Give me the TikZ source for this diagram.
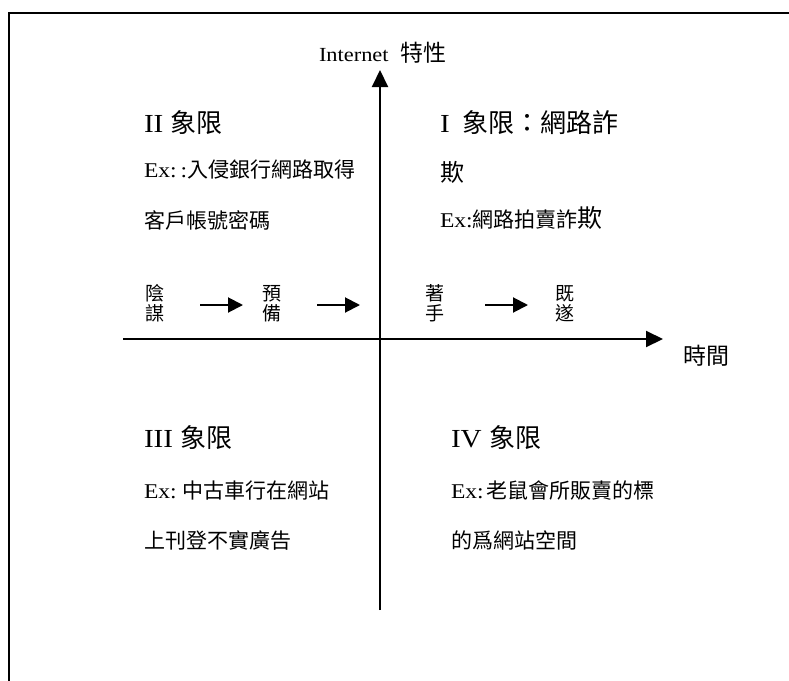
\documentclass[tikz,border=0pt]{standalone}
\usepackage{fontspec}
\setmainfont{Liberation Serif}[FakeStretch=1.12]
\newfontfamily\cjk{Noto Sans CJK TC}
\usetikzlibrary{arrows.meta}
\newcommand\fsz[1]{\fontsize{#1}{#1}\selectfont}
\tikzset{
  txt/.style={anchor=base west, inner sep=0pt, outer sep=0pt},
  hd/.style={txt, font=\fsz{26}},
  bd/.style={txt, font=\fsz{21}},
  vch/.style={anchor=base, inner sep=0pt, outer sep=0pt, font=\cjk\fsz{19}},
  axisline/.style={line width=2pt, -{Triangle[length=17pt,width=16pt]}},
  flow/.style={line width=2pt, -{Triangle[length=15pt,width=15pt]}},
  framel/.style={line width=2pt}
}
\begin{document}
\begin{tikzpicture}[x=1pt,y=-1pt]
\useasboundingbox (0,0) rectangle (789,680);
% frame (partially visible)
\draw[framel] (9,682) -- (9,13) -- (791,13);

% axes
\coordinate (yb) at (380,610);
\coordinate (yt) at (380,70);
\coordinate (xl) at (123,339);
\coordinate (xr) at (663,339);
\draw[axisline] (yb) -- (yt);
\draw[axisline] (xl) -- (xr);

% axis labels
\node[txt, font=\fsz{20}] (ylab) at (319,61) {\makebox[81pt][l]{Internet}{\cjk\fsz{23}特性}};
\node[txt, font=\cjk\fsz{23}] (xlab) at (683,364) {時間};

% quadrant II
\node[hd] (q2h) at (144,132) {II {\cjk 象限}};
\node[bd] (q2a) at (144,177) {Ex:\hspace{4pt}:{\cjk 入侵銀行網路取得}};
\node[bd] (q2b) at (144,228) {\cjk 客戶帳號密碼};

% quadrant I
\node[hd] (q1h) at (440,132) {\makebox[22pt][l]{I}{\cjk 象限：網路詐}};
\node[txt, font=\cjk\fsz{24}] (q1a) at (440,181) {欺};
\node[bd] (q1b) at (440,227) {Ex:{\cjk 網路拍賣詐{\fsz{25}欺}}};

% quadrant III
\node[hd] (q3h) at (144,447) {III {\cjk 象限}};
\node[bd] (q3a) at (144,498) {\makebox[38pt][l]{Ex:}{\cjk 中古車行在網站}};
\node[bd] (q3b) at (144,548) {\cjk 上刊登不實廣告};

% quadrant IV
\node[hd] (q4h) at (451,447) {IV {\cjk 象限}};
\node[bd] (q4a) at (451,498) {\makebox[35pt][l]{Ex:}{\cjk 老鼠會所販賣的標}};
\node[bd] (q4b) at (451,548) {\cjk 的爲網站空間};

% stages
\node[vch] (yin) at (155,300) {陰};
\node[vch] (mou) at (155,320) {謀};
\node[vch] (yu) at (272,300) {預};
\node[vch] (bei) at (272,320) {備};
\node[vch] (zhu) at (435,300) {著};
\node[vch] (shou) at (435,320) {手};
\node[vch] (ji) at (565,300) {既};
\node[vch] (sui) at (565,320) {遂};

\coordinate (f1s) at (200,305);
\coordinate (f1e) at (243,305);
\coordinate (f2s) at (317,305);
\coordinate (f2e) at (360,305);
\coordinate (f3s) at (485,305);
\coordinate (f3e) at (528,305);
\draw[flow] (f1s) -- (f1e);
\draw[flow] (f2s) -- (f2e);
\draw[flow] (f3s) -- (f3e);
\end{tikzpicture}
\end{document}
